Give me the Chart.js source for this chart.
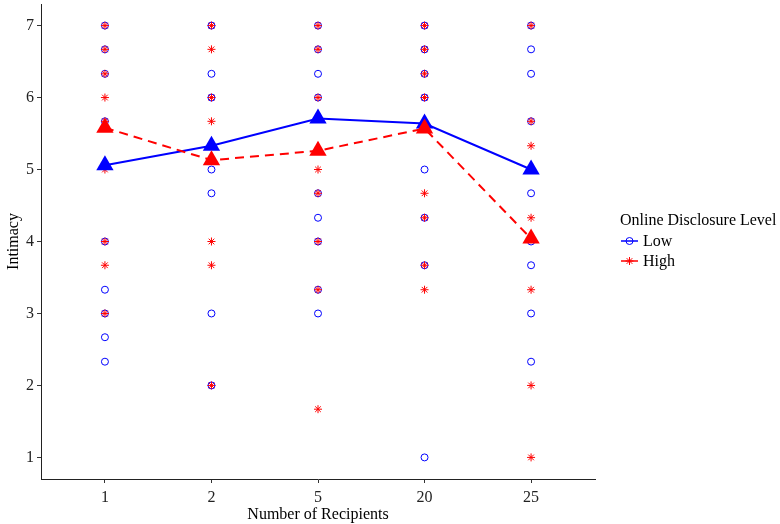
<!DOCTYPE html>
<html>
<head>
<meta charset="utf-8">
<script src="https://cdn.jsdelivr.net/npm/chart.js@4/dist/chart.umd.min.js"></script>
<style>
  html, body { margin: 0; padding: 0; background: #fff; }
  #wrap { width: 780px; height: 524px; }
</style>
</head>
<body>
<div id="wrap"><canvas id="chart" width="780" height="524"></canvas></div>
<script>
const categories = ['1', '2', '5', '20', '25'];

// condition means (triangles + lines)
const lowMeans = [5.06, 5.33, 5.71, 5.64, 5.00];
const highMeans = [5.58, 5.13, 5.26, 5.57, 4.04];

// individual scores per recipient count (distinct values visible)
const lowScores = [
  [7, 6.67, 6.33, 5.67, 4, 3.33, 3, 2.67, 2.33],
  [7, 6.33, 6, 5, 4.67, 3, 2],
  [7, 6.67, 6.33, 6, 4.67, 4.33, 4, 3.33, 3],
  [7, 6.67, 6.33, 6, 5, 4.33, 3.67, 1],
  [7, 6.67, 6.33, 5.67, 4.67, 4, 3.67, 3, 2.33]
];
const highScores = [
  [7, 6.67, 6.33, 6, 5.67, 5, 4, 3.67, 3],
  [7, 6.67, 6, 5.67, 4, 3.67, 2],
  [7, 6.67, 6, 5, 4.67, 4, 3.33, 1.67],
  [7, 6.67, 6.33, 6, 4.67, 4.33, 3.67, 3.33],
  [7, 5.67, 5.33, 4.33, 3.33, 2, 1]
];

const yTicks = [1, 2, 3, 4, 5, 6, 7];

const BLUE = '#0000FF';
const RED = '#FF0000';
const FONT = "'Liberation Serif', 'DejaVu Serif', serif";

const toPoints = groups => groups.flatMap((vals, i) => vals.map(v => ({ x: i + 1, y: v })));
const meanPoints = arr => arr.map((v, i) => ({ x: i + 1, y: v }));

// legend drawn by hand so the key can show line + marker like ggplot
const legendPlugin = {
  id: 'ggLegend',
  afterDraw(chart) {
    const ctx = chart.ctx;
    ctx.save();
    ctx.fillStyle = '#000';
    ctx.textBaseline = 'middle';
    ctx.textAlign = 'left';
    ctx.font = '16px ' + FONT;
    ctx.fillText('Online Disclosure Level', 620, 221);
    const items = [
      { label: 'Low', color: BLUE, style: 'circle', radius: 3.5, y: 241 },
      { label: 'High', color: RED, style: 'star', radius: 4, y: 261 }
    ];
    items.forEach(it => {
      ctx.strokeStyle = it.color;
      ctx.lineWidth = 1.5;
      ctx.beginPath();
      ctx.moveTo(621, it.y);
      ctx.lineTo(638, it.y);
      ctx.stroke();
      ctx.fillStyle = 'rgba(0,0,0,0)';
      ctx.lineWidth = 1;
      Chart.helpers.drawPoint(ctx, { pointStyle: it.style, radius: it.radius, borderWidth: 1, rotation: 0 }, 629.5, it.y);
      ctx.fillStyle = '#000';
      ctx.font = '16px ' + FONT;
      ctx.fillText(it.label, 643, it.y + 1);
    });
    ctx.restore();
  }
};

new Chart(document.getElementById('chart'), {
  type: 'scatter',
  data: {
    datasets: [
      {
        label: 'High mean',
        data: meanPoints(highMeans),
        showLine: true,
        borderColor: RED,
        backgroundColor: RED,
        borderWidth: 2,
        borderDash: [9, 6],
        pointStyle: 'triangle',
        pointRadius: 10,
        pointBorderWidth: 0,
        order: 0
      },
      {
        label: 'Low mean',
        data: meanPoints(lowMeans),
        showLine: true,
        borderColor: BLUE,
        backgroundColor: BLUE,
        borderWidth: 2,
        pointStyle: 'triangle',
        pointRadius: 10,
        pointBorderWidth: 0,
        order: 1
      },
      {
        label: 'High',
        data: toPoints(highScores),
        pointStyle: 'star',
        pointRadius: 4,
        borderColor: RED,
        backgroundColor: RED,
        pointBorderWidth: 1,
        order: 2
      },
      {
        label: 'Low',
        data: toPoints(lowScores),
        pointStyle: 'circle',
        pointRadius: 3.5,
        borderColor: BLUE,
        backgroundColor: 'rgba(0,0,0,0)',
        pointBorderWidth: 1,
        order: 3
      }
    ]
  },
  options: {
    responsive: false,
    animation: false,
    layout: { autoPadding: false, padding: { top: 4, right: 185, bottom: 0, left: 0 } },
    plugins: { legend: { display: false }, tooltip: { enabled: false } },
    scales: {
      x: {
        type: 'linear',
        min: 0.4,
        max: 5.6,
        afterFit: s => { s.height = 45; s.paddingLeft = 0; s.paddingRight = 0; },
        afterBuildTicks: s => { s.ticks = categories.map((c, i) => ({ value: i + 1 })); },
        ticks: {
          callback: v => categories[v - 1],
          font: { family: FONT, size: 16 },
          color: '#222',
          padding: 5,
          maxRotation: 0
        },
        grid: { drawOnChartArea: false, drawTicks: true, tickLength: 4, color: '#333' },
        border: { display: true, color: '#222', width: 1 },
        title: { display: true, text: 'Number of Recipients', font: { family: FONT, size: 16 }, color: '#000', padding: { top: 0, bottom: 0 } }
      },
      y: {
        min: 0.7,
        max: 7.3,
        afterFit: s => { s.width = 41; s.paddingTop = 0; s.paddingBottom = 0; },
        afterBuildTicks: s => { s.ticks = yTicks.map(v => ({ value: v })); },
        ticks: {
          font: { family: FONT, size: 16 },
          color: '#222',
          padding: 3
        },
        grid: { drawOnChartArea: false, drawTicks: true, tickLength: 4, color: '#333' },
        border: { display: true, color: '#222', width: 1 },
        title: { display: true, text: 'Intimacy', font: { family: FONT, size: 16 }, color: '#000', padding: { top: 4, bottom: 0 } }
      }
    }
  },
  plugins: [legendPlugin]
});
</script>
</body>
</html>
